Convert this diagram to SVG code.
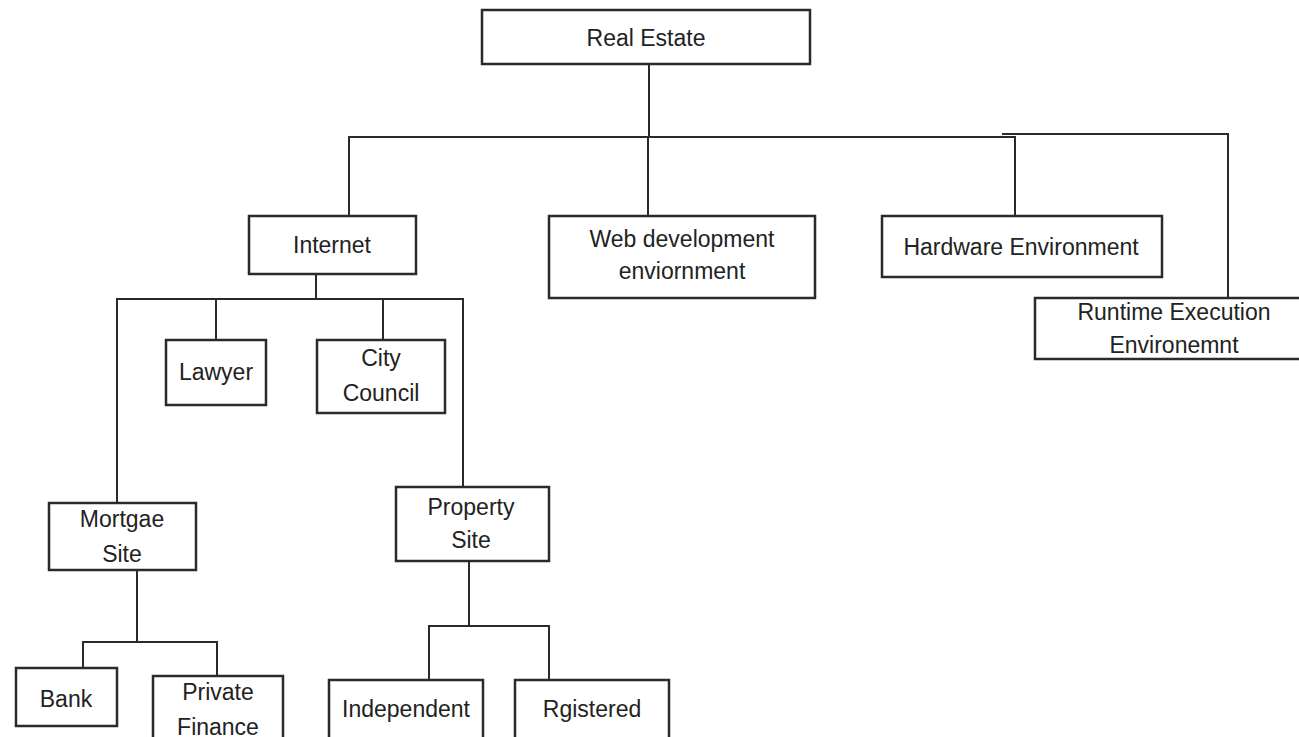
<svg xmlns="http://www.w3.org/2000/svg" width="1299" height="737" viewBox="0 0 1299 737">
  <style>
    .box { fill: #ffffff; stroke: #2a2a2a; stroke-width: 2.5; }
    .wire { fill: none; stroke: #2a2a2a; stroke-width: 2; }
    .label { font-family: "Liberation Sans", Arial, sans-serif; font-size: 23px; fill: #222222; text-anchor: middle; }
  </style>
  <rect x="0" y="0" width="1299" height="737" fill="#ffffff"/>

  <!-- tree connectors -->
  <g id="connectors">
    <!-- Real Estate to its four branches -->
    <polyline class="wire" points="649,64 649,137"/>
    <polyline class="wire" points="349,216 349,137 1015,137 1015,216"/>
    <polyline class="wire" points="648,137 648,216"/>
    <polyline class="wire" points="1002,134 1228,134 1228,298"/>
    <!-- Internet to its children -->
    <polyline class="wire" points="316,274 316,299"/>
    <polyline class="wire" points="117,503 117,299 463,299 463,487"/>
    <polyline class="wire" points="216,299 216,340"/>
    <polyline class="wire" points="383,299 383,340"/>
    <!-- Mortgae Site to Bank / Private Finance -->
    <polyline class="wire" points="137,570 137,642"/>
    <polyline class="wire" points="83,668 83,642 217,642 217,676"/>
    <!-- Property Site to Independent / Rgistered -->
    <polyline class="wire" points="469,561 469,626"/>
    <polyline class="wire" points="429,680 429,626 549,626 549,680"/>
  </g>

  <g id="real-estate">
    <rect class="box" x="482" y="10" width="328" height="54"/>
    <text class="label" x="646" y="46">Real Estate</text>
  </g>

  <g id="internet">
    <rect class="box" x="249" y="216" width="167" height="58"/>
    <text class="label" x="332" y="253">Internet</text>
  </g>

  <g id="web-development">
    <rect class="box" x="549" y="216" width="266" height="82"/>
    <text class="label" x="682" y="247">Web development</text>
    <text class="label" x="682" y="279">enviornment</text>
  </g>

  <g id="hardware-environment">
    <rect class="box" x="882" y="216" width="280" height="61"/>
    <text class="label" x="1021" y="255">Hardware Environment</text>
  </g>

  <g id="runtime-execution">
    <rect class="box" x="1035" y="298" width="280" height="61"/>
    <text class="label" x="1174" y="320">Runtime Execution</text>
    <text class="label" x="1174" y="353">Environemnt</text>
  </g>

  <g id="lawyer">
    <rect class="box" x="166" y="340" width="100" height="65"/>
    <text class="label" x="216" y="380">Lawyer</text>
  </g>

  <g id="city-council">
    <rect class="box" x="317" y="340" width="128" height="73"/>
    <text class="label" x="381" y="366">City</text>
    <text class="label" x="381" y="401">Council</text>
  </g>

  <g id="mortgae-site">
    <rect class="box" x="49" y="503" width="147" height="67"/>
    <text class="label" x="122" y="527">Mortgae</text>
    <text class="label" x="122" y="562">Site</text>
  </g>

  <g id="property-site">
    <rect class="box" x="396" y="487" width="153" height="74"/>
    <text class="label" x="471" y="515">Property</text>
    <text class="label" x="471" y="548">Site</text>
  </g>

  <g id="bank">
    <rect class="box" x="16" y="668" width="101" height="58"/>
    <text class="label" x="66" y="707">Bank</text>
  </g>

  <g id="private-finance">
    <rect class="box" x="153" y="676" width="130" height="70"/>
    <text class="label" x="218" y="700">Private</text>
    <text class="label" x="218" y="735">Finance</text>
  </g>

  <g id="independent">
    <rect class="box" x="329" y="680" width="154" height="70"/>
    <text class="label" x="406" y="717">Independent</text>
  </g>

  <g id="rgistered">
    <rect class="box" x="515" y="680" width="154" height="70"/>
    <text class="label" x="592" y="717">Rgistered</text>
  </g>
</svg>
